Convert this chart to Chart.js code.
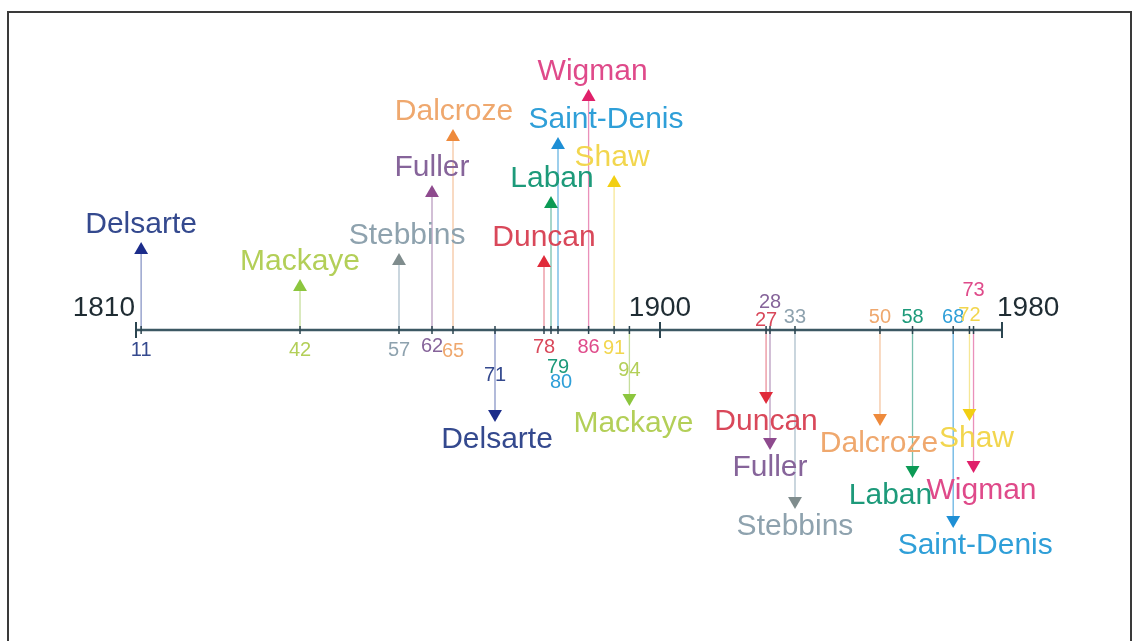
<!DOCTYPE html>
<html>
<head>
<meta charset="utf-8">
<script src="https://cdn.jsdelivr.net/npm/chart.js@4"></script>
<style>
  html, body { margin: 0; padding: 0; background: #fff; overflow: hidden; }
  #wrap { position: relative; width: 1138px; height: 641px; }
  #frame { position: absolute; left: 7px; top: 11px; width: 1125px; height: 660px;
           border: 2px solid #3a3a3a; border-bottom: none; box-sizing: border-box; }
</style>
</head>
<body>
<div id="wrap">
  <div id="frame"></div>
  <canvas id="timeline"></canvas>
</div>
<script>
// dancers, birth and death years
const names = ["Delsarte", "Mackaye", "Stebbins", "Fuller", "Dalcroze", "Duncan", "Laban", "Saint-Denis", "Wigman", "Shaw"];
const bornYears = [1811, 1842, 1857, 1862, 1865, 1878, 1879, 1880, 1886, 1891];
const diedYears = [1871, 1894, 1933, 1928, 1950, 1927, 1958, 1968, 1973, 1972];
// arrow heights above / below the axis
const bornLevels = [80, 43, 69, 137, 193, 67, 126, 185, 233, 147];
const diedLevels = [84, 68, 171, 112, 88, 66, 140, 190, 135, 83];
// axis ticks
const axisYears = [1810, 1900, 1980];
const axisLabels = ["1810", "1900", "1980"];

// styles
const arrowColors = ["#1b2c8a", "#8cc63e", "#7f8c8d", "#8e4a8e", "#ee8a3c", "#e02a3a", "#0b9a55", "#1e8fd5", "#e0206a", "#f2cf12"];
const textColors = ["#34498e", "#b3cf58", "#8ea2ae", "#86649a", "#efa86e", "#d9485a", "#1d9a7a", "#2f9fd8", "#df4a8a", "#f2d64e"];
const stemColors = ["rgba(60,80,160,0.6)", "rgba(160,200,90,0.6)", "rgba(120,150,170,0.6)", "rgba(140,90,150,0.6)",
  "rgba(238,160,100,0.6)", "rgba(220,70,90,0.6)", "rgba(30,150,120,0.6)", "rgba(40,150,215,0.7)", "rgba(220,70,140,0.6)", "rgba(240,215,80,0.6)"];
const bornNameDx = [0, 0, 8, 0, 1, 0, 1, 48, 4, -2];
const diedNameDx = [2, 4, 0, 0, -1, 0, -22, 22, 8, 7];
const bornYearDx = [0, 0, 0, 0, 0, 0, 7, 3, 0, 0];
const bornYearDy = [20, 20, 20, 16, 21, 17, 37, 52, 17, 18];
const diedYearDy = [45, 40, -13, -28, -13, -10, -13, -13, -40, -15];
const axisAlign = ["right", "center", "left"];
const axisDx = [-1, 0, -5];
const FONT = "'Liberation Sans', Arial, sans-serif";

// the drawn axis is not evenly spaced: knots where the original timeline changes pace
const knotYears = [1810, 1842, 1862, 1880, 1900, 1928, 1950, 1980];
const knotPos = [0, 0.1894, 0.3418, 0.4873, 0.6051, 0.7321, 0.8591, 1];

function warpYear(v) {
  let i = 0;
  while (i < knotYears.length - 2 && v > knotYears[i + 1]) i++;
  const t = (v - knotYears[i]) / (knotYears[i + 1] - knotYears[i]);
  return knotPos[i] + t * (knotPos[i + 1] - knotPos[i]);
}
function unwarpYear(d) {
  let i = 0;
  while (i < knotPos.length - 2 && d > knotPos[i + 1]) i++;
  const t = (d - knotPos[i]) / (knotPos[i + 1] - knotPos[i]);
  return knotYears[i] + t * (knotYears[i + 1] - knotYears[i]);
}

class TimelineScale extends Chart.LinearScale {
  getPixelForValue(value) { return this.getPixelForDecimal(warpYear(value)); }
  getValueForPixel(pixel) { return unwarpYear(this.getDecimalForPixel(pixel)); }
}
TimelineScale.id = "timeline";
TimelineScale.defaults = Chart.LinearScale.defaults;
Chart.register(TimelineScale);

const stems = [];
names.forEach((n, i) => {
  stems.push({ type: "line", data: [{ x: bornYears[i], y: 0 }, { x: bornYears[i], y: bornLevels[i] }],
    borderColor: stemColors[i], borderWidth: 1.3, pointRadius: 0, order: 4 });
  stems.push({ type: "line", data: [{ x: diedYears[i], y: 0 }, { x: diedYears[i], y: -diedLevels[i] }],
    borderColor: stemColors[i], borderWidth: 1.3, pointRadius: 0, order: 4 });
});

const labelPlugin = {
  id: "timelineLabels",
  afterDatasetsDraw(chart) {
    const ctx = chart.ctx, x = chart.scales.x, y = chart.scales.y;
    const y0 = y.getPixelForValue(0);
    ctx.save();
    ctx.textBaseline = "middle";
    // axis years
    ctx.font = "28px " + FONT;
    ctx.fillStyle = "#1f2c33";
    axisYears.forEach((yr, i) => {
      ctx.textAlign = axisAlign[i];
      ctx.fillText(axisLabels[i], x.getPixelForValue(yr) + axisDx[i], y0 - 22);
    });
    ctx.textAlign = "center";
    names.forEach((n, i) => {
      const bx = x.getPixelForValue(bornYears[i]);
      const dx = x.getPixelForValue(diedYears[i]);
      ctx.fillStyle = textColors[i];
      ctx.font = "30px " + FONT;
      ctx.fillText(n, bx + bornNameDx[i], y.getPixelForValue(bornLevels[i]) - 25);
      ctx.fillText(n, dx + diedNameDx[i], y.getPixelForValue(-diedLevels[i]) + 26);
      ctx.font = "20px " + FONT;
      ctx.fillText(String(bornYears[i]).slice(2), bx + bornYearDx[i], y0 + bornYearDy[i]);
      ctx.fillText(String(diedYears[i]).slice(2), dx, y0 + diedYearDy[i]);
    });
    ctx.restore();
  }
};

new Chart(document.getElementById("timeline"), {
  type: "scatter",
  data: {
    datasets: [
      { label: "born", data: bornYears.map((b, i) => ({ x: b, y: bornLevels[i] })),
        pointStyle: "triangle", pointRadius: 8, backgroundColor: arrowColors, borderWidth: 0, order: 0 },
      { label: "died", data: diedYears.map((d, i) => ({ x: d, y: -diedLevels[i] })),
        pointStyle: "triangle", pointRotation: 180, pointRadius: 8, backgroundColor: arrowColors, borderWidth: 0, order: 0 },
      { label: "major ticks", data: axisYears.map(a => ({ x: a, y: 0 })),
        pointStyle: "line", pointRotation: 90, pointRadius: 8, borderColor: "#2c4550", borderWidth: 2, order: 1 },
      { label: "event ticks", data: bornYears.concat(diedYears).map(a => ({ x: a, y: 0 })),
        pointStyle: "line", pointRotation: 90, pointRadius: 4, borderColor: "#2c4550", borderWidth: 1.5, order: 1 },
      { type: "line", label: "axis", data: [{ x: axisYears[0], y: 0 }, { x: axisYears[2], y: 0 }],
        borderColor: "#3c5863", borderWidth: 2.5, pointRadius: 0, order: 2 },
      ...stems
    ]
  },
  options: {
    responsive: true,
    maintainAspectRatio: false,
    animation: false,
    clip: false,
    layout: { padding: { left: 136, right: 136, top: 30, bottom: 11 } },
    scales: {
      x: { type: "timeline", min: 1810, max: 1980, display: false },
      y: { type: "linear", min: -300, max: 300, display: false }
    },
    plugins: { legend: { display: false }, tooltip: { enabled: false } }
  },
  plugins: [labelPlugin]
});
</script>
</body>
</html>
